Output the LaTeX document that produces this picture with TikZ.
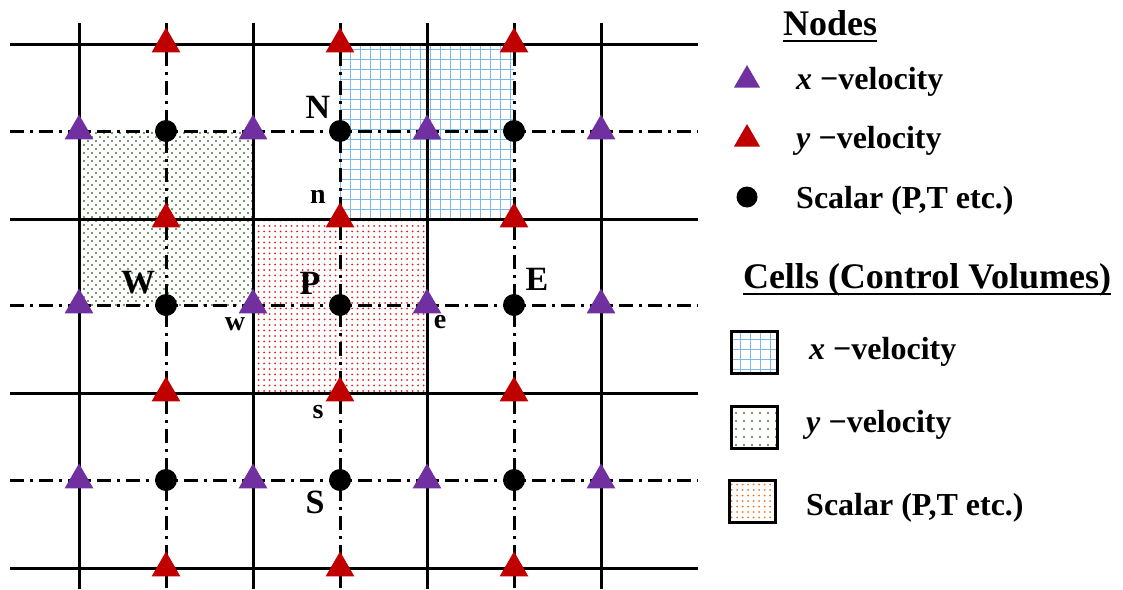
\documentclass[tikz,border=0pt]{standalone}
\usepackage{fontspec}
\setmainfont{Liberation Serif}
\usetikzlibrary{shapes.geometric,patterns.meta}
\definecolor{xvel}{HTML}{7030A0}
\definecolor{yvel}{HTML}{C00000}
\definecolor{xcell}{HTML}{3A93DC}
\definecolor{ycell}{HTML}{3F7A2F}
\definecolor{pcell}{HTML}{E02020}
\definecolor{pleg}{HTML}{E8742A}

\tikzset{
  xhatch/.style={pattern={Hatch[angle=0,distance=10pt,line width=0.8pt]},pattern color=xcell!65},
  ydots/.style={pattern={Dots[distance=8pt,radius=1.2pt]},pattern color=ycell},
  ydotsb/.style={pattern={Dots[distance=8pt,radius=1.2pt,xshift=4pt,yshift=4pt]},pattern color=ycell},
  pdots/.style={pattern={Dots[distance=5.5pt,radius=1pt]},pattern color=#1},
  pdots/.default=pcell
}

\begin{document}
\begin{tikzpicture}[x=1pt,y=-1pt,
  gridline/.style={line width=3pt},
  stagline/.style={line width=3pt,dash pattern=on 14pt off 6pt on 3pt off 6pt},
  unode/.style={regular polygon,regular polygon sides=3,minimum size=33pt,inner sep=0pt,fill=xvel},
  vnode/.style={regular polygon,regular polygon sides=3,minimum size=33pt,inner sep=0pt,fill=yvel},
  pnode/.style={circle,minimum size=22pt,inner sep=0pt,fill=black},
  biglbl/.style={anchor=base,inner sep=0pt,font=\fontsize{34}{34}\selectfont\bfseries},
  smalllbl/.style={anchor=base,inner sep=0pt,font=\fontsize{28}{28}\selectfont\bfseries},
  heading/.style={anchor=base,inner sep=0pt,font=\fontsize{36}{36}\selectfont\bfseries},
  legtext/.style={anchor=base west,inner sep=0pt,font=\fontsize{32}{32}\selectfont\bfseries},
  swatch/.style={draw,line width=3pt,minimum width=46pt,minimum height=42pt,inner sep=0pt}]
  \useasboundingbox (0,0) rectangle (1123,589);
  % Control volumes
  \fill[xhatch] (340,44) rectangle (514,219);
  \fill[ydots] (79,131) rectangle (253,305);
  \fill[ydotsb] (79,131) rectangle (253,305);
  \fill[pdots] (253,219) rectangle (427,393);
  % Main grid
  \foreach \y in {44,219,393,568}
    \draw[gridline] (10,\y) -- (698,\y);
  \foreach \x in {79,253,427,601}
    \draw[gridline] (\x,23) -- (\x,589);
  % Staggered grid
  \foreach \y in {131,305,480}
    \draw[stagline] (10,\y) -- (698,\y);
  \foreach \x in {166,340,514}
    \draw[stagline] (\x,23) -- (\x,589);
  % x-velocity nodes
  \foreach \x [count=\i] in {79,253,427,601}
    \foreach \y [count=\j] in {131,305,480}
      \node[unode] (u-\i-\j) at (\x,\y) {};
  % y-velocity nodes
  \foreach \x [count=\i] in {166,340,514}
    \foreach \y [count=\j] in {44,219,393,568}
      \node[vnode] (v-\i-\j) at (\x,\y) {};
  % Scalar nodes
  \foreach \x [count=\i] in {166,340,514}
    \foreach \y [count=\j] in {131,305,480}
      \node[pnode] (p-\i-\j) at (\x,\y) {};
  % Labels
  \node[biglbl] (lbl-N) at (318,118) {N};
  \node[smalllbl] (lbl-n) at (318,203) {n};
  \node[biglbl] (lbl-W) at (138,293) {W};
  \node[smalllbl] (lbl-w) at (235,330) {w};
  \node[biglbl] (lbl-P) at (310,294) {P};
  \node[smalllbl] (lbl-e) at (440,328) {e};
  \node[biglbl] (lbl-E) at (537,290) {E};
  \node[smalllbl] (lbl-s) at (318,418) {s};
  \node[biglbl] (lbl-S) at (315,513) {S};
  % Legend: nodes
  \node[heading] (hd-nodes) at (830,35) {Nodes};
  \draw[line width=2.5pt] ([yshift=-6pt]hd-nodes.base west) -- ([yshift=-6pt]hd-nodes.base east);
  \node[unode,minimum size=30pt] (leg-u) at (747,80) {};
  \node[vnode,minimum size=30pt] (leg-v) at (747,139) {};
  \node[pnode,minimum size=21pt] (leg-p) at (747,197) {};
  \node[legtext] (txt-u) at (796,89) {\textit{x} −velocity};
  \node[legtext] (txt-v) at (796,148) {\textit{y} −velocity};
  \node[legtext] (txt-p) at (796,208) {Scalar (P,T etc.)};
  % Legend: cells
  \node[heading] (hd-cells) at (927,288) {Cells (Control Volumes)};
  \draw[line width=2.5pt] ([yshift=-6pt]hd-cells.base west) -- ([yshift=-6pt]hd-cells.base east);
  \node[swatch,xhatch] (leg-ucell) at (754,352) {};
  \node[swatch,ydots] (leg-vcell) at (754,427) {};
  \node[swatch,pdots=pleg] (leg-pcell) at (752,501) {};
  \node[legtext] (txt-ucell) at (809,359) {\textit{x} −velocity};
  \node[legtext] (txt-vcell) at (806,432) {\textit{y} −velocity};
  \node[legtext] (txt-pcell) at (806,515) {Scalar (P,T etc.)};
\end{tikzpicture}
\end{document}
